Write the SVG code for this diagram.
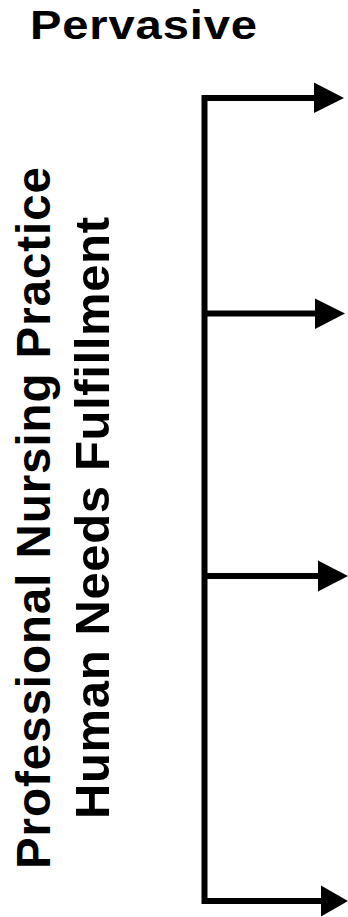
<svg xmlns="http://www.w3.org/2000/svg" width="348" height="917" viewBox="0 0 348 917">
<style>
.t{font-family:"Liberation Sans",Arial,sans-serif;font-weight:bold;fill:#000}
.ln{fill:none;stroke:#000;stroke-width:6;stroke-linejoin:miter}
.hd{fill:#000}
</style>
<rect width="348" height="917" fill="#fff"/>
<g id="title">
<text class="t" transform="translate(30,39) scale(1.15,1)" x="0" y="0" font-size="41" textLength="197.4" lengthAdjust="spacing">Pervasive</text>
</g>
<g id="label-practice">
<text class="t" transform="translate(50,518) rotate(-90)" x="0" y="0" font-size="47.5" text-anchor="middle" textLength="702" lengthAdjust="spacing">Professional Nursing Practice</text>
</g>
<g id="label-needs">
<text class="t" transform="translate(108.5,518) rotate(-90)" x="0" y="0" font-size="49" text-anchor="middle" textLength="602" lengthAdjust="spacing">Human Needs Fulfillment</text>
</g>
<g id="connectors">
<path class="ln" d="M316 98 H204.5 V901 H322"/>
<path class="ln" d="M204.5 313.5 H316"/>
<path class="ln" d="M204.5 576 H319"/>
<polygon class="hd" points="314,82.5 344,98 314,113"/>
<polygon class="hd" points="315,298.5 345,313.5 315,329"/>
<polygon class="hd" points="318,560.5 348,576 318,591.5"/>
<polygon class="hd" points="321,885.5 348,901 321,916.5"/>
</g>
</svg>
